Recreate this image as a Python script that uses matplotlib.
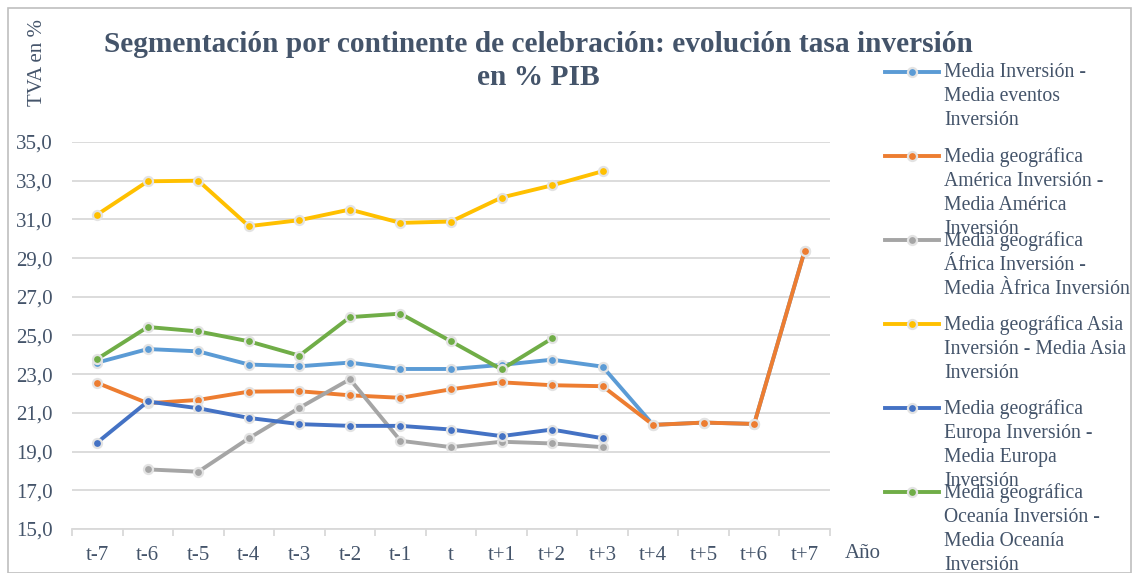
import matplotlib.pyplot as plt
from matplotlib.lines import Line2D
from matplotlib.patches import Rectangle
import numpy as np

# Data
years = ['t-7', 't-6', 't-5', 't-4', 't-3', 't-2', 't-1', 't',
         't+1', 't+2', 't+3', 't+4', 't+5', 't+6', 't+7']
nan = np.nan

media_inv = [23.60, 24.30, 24.18, 23.50, 23.41, 23.60, 23.27, 23.27,
             23.48, 23.75, 23.39, 20.38, 20.50, 20.43, 29.39]
america = [22.55, 21.50, 21.67, 22.10, 22.12, 21.91, 21.78, 22.22,
           22.58, 22.43, 22.38, 20.38, 20.50, 20.43, 29.39]
africa = [nan, 18.08, 17.96, 19.69, 21.26, 22.74, 19.56, 19.23,
          19.51, 19.42, 19.23, nan, nan, nan, nan]
asia = [31.25, 32.97, 33.00, 30.65, 30.96, 31.51, 30.82, 30.89,
        32.13, 32.76, 33.49, nan, nan, nan, nan]
europa = [19.47, 21.59, 21.24, 20.74, 20.42, 20.33, 20.33, 20.14,
          19.80, 20.14, 19.69, nan, nan, nan, nan]
oceania = [23.79, 25.44, 25.21, 24.70, 23.96, 25.95, 26.13, 24.70,
           23.25, 24.85, nan, nan, nan, nan, nan]

series = [media_inv, america, africa, asia, europa, oceania]
labels = [
    'Media Inversión -\nMedia eventos\nInversión',
    'Media geográfica\nAmérica Inversión -\nMedia América\nInversión',
    'Media geográfica\nÁfrica Inversión -\nMedia Àfrica Inversión',
    'Media geográfica Asia\nInversión - Media Asia\nInversión',
    'Media geográfica\nEuropa Inversión -\nMedia Europa\nInversión',
    'Media geográfica\nOceanía Inversión -\nMedia Oceanía\nInversión',
]
colors = ['#5B9BD5', '#ED7D31', '#A5A5A5', '#FFC000', '#4472C4', '#70AD47']
yticks = [15, 17, 19, 21, 23, 25, 27, 29, 31, 33, 35]

text_col = '#44546A'
grid_col = '#D9D9D9'
plt.rcParams['font.family'] = ['Liberation Serif', 'DejaVu Serif']

W, H = 1132, 573
fig = plt.figure(figsize=(W / 100, H / 100), dpi=100)
fig.patches.append(Rectangle((8 / W, 0), 1 - 9 / W, 1 - 8 / H, transform=fig.transFigure,
                             fill=False, edgecolor='#BFBFBF', lw=1.2))

ax = fig.add_axes([72 / W, 44 / H, (830 - 72) / W, (529 - 142) / H])
x = np.arange(len(years))
for vals, c in zip(series, colors):
    ax.plot(x, vals, color=c, lw=2.8, marker='o', markersize=6.5,
            markerfacecolor=c, markeredgecolor='#E3E3E3', markeredgewidth=1.6,
            solid_capstyle='round', clip_on=False)

ax.set_xlim(-0.5, len(years) - 0.5)
ax.set_ylim(15, 35)
ax.set_yticks(yticks)
ax.set_yticklabels([f'{v:.1f}'.replace('.', ',') for v in yticks])
ax.yaxis.grid(True, color=grid_col, lw=1.3)
ax.set_axisbelow(True)
for s in ['top', 'right', 'left']:
    ax.spines[s].set_visible(False)
ax.spines['bottom'].set_color(grid_col)
ax.spines['bottom'].set_linewidth(1.3)
ax.set_xticks(x)
ax.set_xticklabels(years)
ax.set_xticks(np.arange(-0.5, len(years)), minor=True)
ax.tick_params(axis='x', which='major', length=0, pad=12, labelsize=15, labelcolor=text_col)
ax.tick_params(axis='x', which='minor', length=5, color=grid_col, width=1.3)
ax.tick_params(axis='y', length=0, pad=14, labelsize=15, labelcolor=text_col)

fig.text(538 / W, 1 - 61 / H, 'Segmentación por continente de celebración: evolución tasa inversión\nen % PIB',
         ha='center', va='center', fontsize=21.2, fontweight='bold', color=text_col,
         linespacing=1.3)
fig.text(38 / W, 1 - 19 / H, 'TVA en %', rotation=90, ha='center', va='top',
         fontsize=15, color=text_col)
fig.text(845 / W, 1 - 553 / H, 'Año', ha='left', va='center', fontsize=15, color=text_col)

# legend drawn by hand so entries keep the reference's fixed spacing
for i, (lab, c) in enumerate(zip(labels, colors)):
    yc = 1 - (72 + 84 * i) / H
    fig.add_artist(Line2D([885 / W, 939 / W], [yc, yc], color=c, lw=2.8,
                          transform=fig.transFigure))
    fig.add_artist(Line2D([912 / W], [yc], marker='o', markersize=6.5, color=c,
                          markeredgecolor='#E3E3E3', markeredgewidth=1.6,
                          transform=fig.transFigure))
    fig.text(944 / W, yc + 9 / H, lab, ha='left', va='top', fontsize=14.2,
             color=text_col, linespacing=1.35)

fig.savefig('out.png', dpi=100)
